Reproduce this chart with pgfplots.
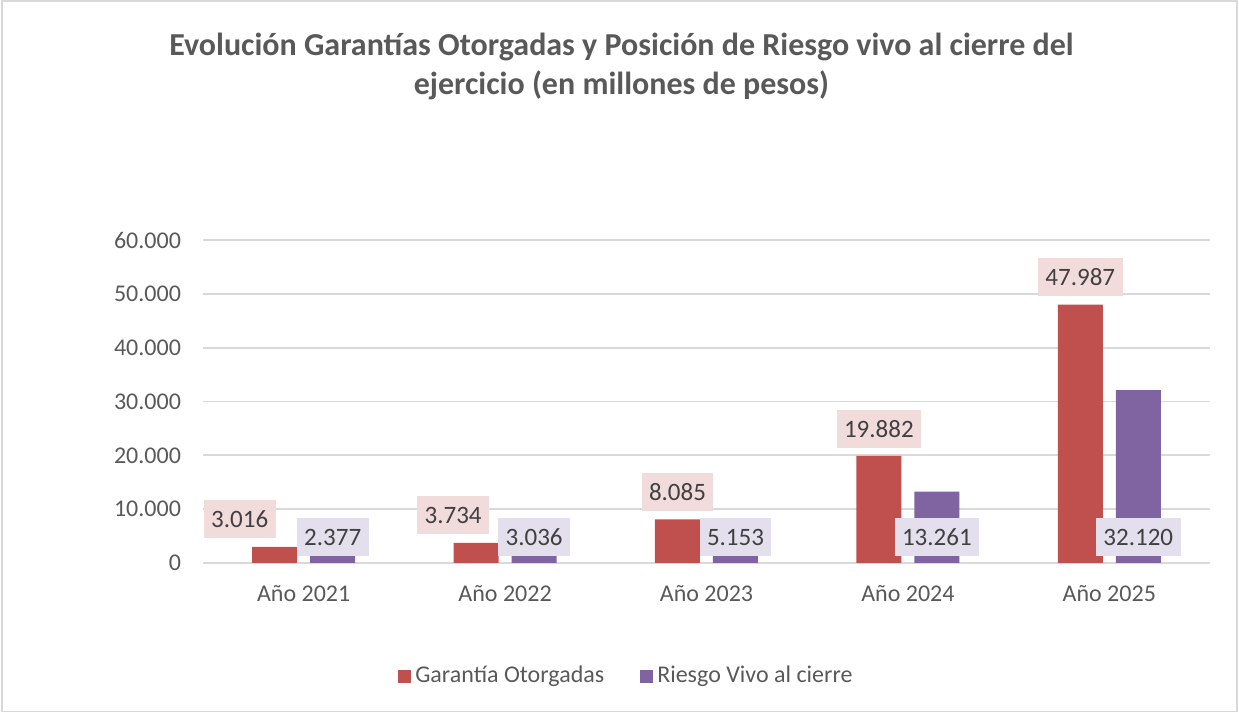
\documentclass[border=0pt]{standalone}
\usepackage{fontspec}
\setmainfont{Carlito}
\usepackage{pgfplots}
\usepackage{pgfplotstable}
\pgfplotsset{compat=1.18}
\definecolor{cRed}{HTML}{C0504D}
\definecolor{cPur}{HTML}{8064A2}
\definecolor{lRed}{HTML}{F2DCDB}
\definecolor{lPur}{HTML}{E4DFEC}
\definecolor{gridc}{HTML}{D9D9D9}
\definecolor{txt}{HTML}{595959}
\definecolor{lbl}{HTML}{404040}

\pgfplotstableread{
x y dx
0 3016 -17.5
1 3734 -11.5
2 8085 0
3 19882 0
4 47987 0
}\garantia
\pgfplotstableread{
x y z
0 2377 0
1 3036 0
2 5153 0
3 13261 0
4 32120 0
}\riesgo

\begin{document}
\begin{tikzpicture}
\path (0,0) rectangle (619.5pt,356.5pt);
\draw[gridc, line width=0.75pt] (1pt,0.75pt) rectangle (618.5pt,356pt);
\node[anchor=base, text=txt, font=\fontsize{16}{19}\selectfont\bfseries] at (310.75pt,328.6pt) {Evolución Garantías Otorgadas y Posición de Riesgo vivo al cierre del};
\node[anchor=base, text=txt, font=\fontsize{16}{19}\selectfont\bfseries] at (310.75pt,309.3pt) {ejercicio (en millones de pesos)};
\begin{axis}[
  at={(101.5pt,75pt)}, anchor=south west,
  scale only axis, width=503.5pt, height=161.5pt,
  xmin=-0.5, xmax=4.5, ymin=0, ymax=60000,
  enlargelimits=false,
  ytick={0,10000,...,60000}, scaled y ticks=false,
  xtick={0,1,2,3,4},
  xticklabels={Año 2021,Año 2022,Año 2023,Año 2024,Año 2025},
  ymajorgrids, grid style={gridc, line width=0.9pt},
  axis line style={draw=none}, tick style={draw=none}, major tick length=0pt,
  ticklabel style={font=\fontsize{12}{14}\selectfont, text=txt},
  yticklabel style={xshift=-7.5pt},
  xticklabel style={yshift=-7.5pt},
  /pgf/number format/1000 sep={.},
  /pgf/number format/assume math mode=true,
  ybar, bar width=22.5pt,
  legend style={at={(0.4215,-0.35)}, anchor=center, draw=none, fill=none,
    legend columns=2, font=\fontsize{12}{14}\selectfont, text=txt,
    /tikz/every even column/.append style={column sep=16pt}},
  legend cell align=left,
]
\addplot[fill=cRed, draw=none, bar shift=-14.5pt,
  nodes near coords,
  visualization depends on={\thisrow{dx} \as \dx},
  every node near coord/.append style={fill=lRed, text=lbl, font=\fontsize{12.5}{14}\selectfont,
    inner xsep=3.7pt, minimum height=19pt, anchor=south, yshift=4pt, xshift=\dx pt},
  legend image code/.code={\fill[cRed] (0pt,-3.25pt) rectangle (6.5pt,3.25pt);}]
  table[x=x,y=y] {\garantia};
\addlegendentry{Garantía Otorgadas}
\addplot[fill=cPur, draw=none, bar shift=14.5pt,
  legend image code/.code={\fill[cPur] (0pt,-3.25pt) rectangle (6.5pt,3.25pt);}]
  table[x=x,y=y] {\riesgo};
\addlegendentry{Riesgo Vivo al cierre}
\addplot[draw=none, fill=none, bar shift=14.5pt, forget plot,
  point meta=explicit, nodes near coords,
  every node near coord/.append style={fill=lPur, text=lbl, font=\fontsize{12.5}{14}\selectfont,
    inner xsep=3.7pt, minimum height=19pt, anchor=south, yshift=3.2pt}]
  table[x=x,y=z,meta=y] {\riesgo};
\end{axis}
\end{tikzpicture}
\end{document}
